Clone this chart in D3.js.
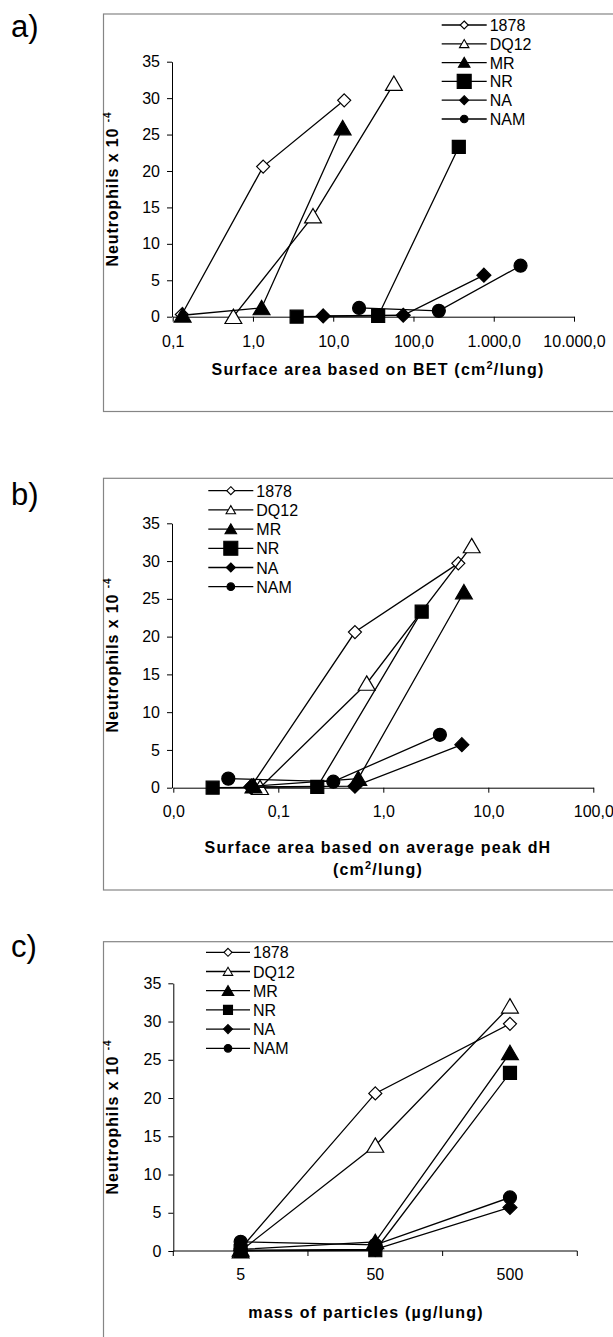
<!DOCTYPE html>
<html>
<head>
<meta charset="utf-8">
<script src="https://cdn.jsdelivr.net/npm/d3@7"></script>
<style>
  body { margin: 0; background: #fff; }
  svg { display: block; font-family: "Liberation Sans", Arial, sans-serif; }
</style>
</head>
<body>
<div id="chart"></div>
<script>
// series, in legend order
var seriesNames = ["1878", "DQ12", "MR", "NR", "NA", "NAM"];

// neutrophil counts (x 10^-4) at the three doses, per series
var neutrophils = [
  [0.3, 20.6, 29.7],
  [0.0, 13.8, 32.0],
  [0.2, 1.2, 25.9],
  [0.0, 0.1, 23.3],
  [0.1, 0.2, 5.7],
  [1.2, 0.8, 7.0]
];

// a) surface area based on BET (cm2/lung)
var betArea = [
  [0.13, 1.34, 13.7],
  [0.57, 5.6, 57],
  [0.133, 1.28, 13.1],
  [3.5, 36.3, 367],
  [7.5, 74.5, 754],
  [21, 207, 2158]
];

// b) surface area based on average peak dH (cm2/lung)
var dhArea = [
  [0.056, 0.537, 5.18],
  [0.067, 0.695, 6.95],
  [0.058, 0.578, 5.86],
  [0.0237, 0.235, 2.32],
  [0.0546, 0.537, 5.6],
  [0.0334, 0.334, 3.46]
];

// c) mass of particles (ug/lung)
var massDose = ["5", "50", "500"];

var yTicks = [0, 5, 10, 15, 20, 25, 30, 35];
var betTicks = [0.1, 1, 10, 100, 1000, 10000];
var betTickLabels = ["0,1", "1,0", "10,0", "100,0", "1.000,0", "10.000,0"];
var dhTicks = [0.01, 0.1, 1, 10, 100];
var dhTickLabels = ["0,0", "0,1", "1,0", "10,0", "100,0"];

// marker styles per series
var markerShape = ["diamond", "triangle", "triangle", "square", "diamond", "circle"];
var markerFilled = [false, false, true, true, true, true];
var markerSize = [6.5, 8, 8, 6.5, 7, 6.5];
var legendSizeAB = [4, 4.5, 5.5, 7, 4.5, 3.8];
var legendSizeC = [4, 4.5, 5.5, 4.5, 4.5, 3.8];

var svg = d3.select("#chart").append("svg")
  .attr("width", 613)
  .attr("height", 1337);

function markerPath(shape, s) {
  if (shape == "diamond") return "M0," + (-s) + "L" + s + ",0L0," + s + "L" + (-s) + ",0Z";
  if (shape == "square") return "M" + (-s) + "," + (-s) + "H" + s + "V" + s + "H" + (-s) + "Z";
  if (shape == "triangle") return "M0," + (-s * 0.95) + "L" + (s * 1.05) + "," + (s * 0.85) + "L" + (-s * 1.05) + "," + (s * 0.85) + "Z";
  var p = d3.path();
  p.arc(0, 0, s, 0, 2 * Math.PI);
  return p.toString();
}

function drawPanel(p) {
  var g = svg.append("g");

  // outer frame (runs off the right edge)
  g.append("rect")
    .attr("x", 103.5).attr("y", p.frameTop)
    .attr("width", 600).attr("height", p.frameBottom - p.frameTop)
    .attr("fill", "none").attr("stroke", "#858585").attr("stroke-width", 1.2);

  g.append("text")
    .attr("x", 11).attr("y", p.labelY)
    .attr("font-size", 31)
    .text(p.label);

  var y = d3.scaleLinear().domain([0, 35]).range(p.yRange);
  var x = p.x;

  // y axis
  var yAxis = g.append("g")
    .attr("transform", "translate(" + p.axisX + ",0)")
    .call(d3.axisLeft(y).tickValues(yTicks).tickSize(5).tickSizeOuter(0).tickPadding(7));
  yAxis.selectAll("text").attr("font-size", 16).attr("fill", "#000");
  yAxis.attr("font-family", null);

  // x axis
  var x0 = p.yRange[0];
  if (p.kind == "log") {
    var xAxis = g.append("g")
      .attr("transform", "translate(0," + x0 + ")")
      .call(d3.axisBottom(x).tickValues(p.ticks)
        .tickFormat(function(d, i) { return p.tickLabels[i]; })
        .tickSize(5).tickSizeOuter(0));
    xAxis.attr("font-family", null);
    xAxis.selectAll("text").attr("font-size", 16).attr("dy", null).attr("y", p.tickLabelDy).attr("fill", "#000");
  } else {
    var xAxis = g.append("g").attr("transform", "translate(0," + x0 + ")");
    var r = x.range();
    xAxis.append("line").attr("x1", r[0]).attr("x2", r[1]).attr("stroke", "#000");
    var edges = massDose.map(function(d) { return x(d); }).concat([r[1]]);
    xAxis.selectAll(".tk").data(edges).enter().append("line")
      .attr("x1", function(d) { return d; }).attr("x2", function(d) { return d; })
      .attr("y1", 0).attr("y2", 5).attr("stroke", "#000");
    xAxis.selectAll(".lb").data(massDose).enter().append("text")
      .attr("x", function(d) { return x(d) + x.bandwidth() / 2; })
      .attr("y", p.tickLabelDy)
      .attr("text-anchor", "middle").attr("font-size", 16)
      .text(function(d) { return d; });
  }

  // axis titles
  var yt = g.append("text")
    .attr("transform", "translate(" + p.yTitle[0] + "," + p.yTitle[1] + ") rotate(-90)")
    .attr("text-anchor", "middle").attr("font-size", 16).attr("font-weight", "bold")
    .attr("letter-spacing", 0.9);
  yt.append("tspan").text("Neutrophils x 10 ");
  yt.append("tspan").attr("font-size", 10).attr("dy", -7).text("-4");

  p.xTitle.forEach(function(t) {
    var tx = g.append("text")
      .attr("x", t.x).attr("y", t.y)
      .attr("text-anchor", "middle").attr("font-size", 16).attr("font-weight", "bold")
      .attr("letter-spacing", 1.2);
    t.parts.forEach(function(part) {
      if (part.sup) tx.append("tspan").attr("font-size", 11).attr("dy", -6).text(part.text);
      else tx.append("tspan").attr("dy", part.down ? 6 : null).text(part.text);
    });
  });

  var xValue = function(s, i) {
    if (p.kind == "log") return x(p.xData[s][i]);
    return x(massDose[i]) + x.bandwidth() / 2;
  };

  var line = d3.line()
    .x(function(d) { return d[0]; })
    .y(function(d) { return d[1]; });

  seriesNames.forEach(function(name, s) {
    var pts = neutrophils[s].map(function(v, i) { return [xValue(s, i), y(v)]; });
    g.append("path")
      .attr("d", line(pts))
      .attr("fill", "none").attr("stroke", "#000").attr("stroke-width", 1.3);
    g.selectAll(".m" + s).data(pts).enter().append("path")
      .attr("transform", function(d) { return "translate(" + d[0] + "," + d[1] + ")"; })
      .attr("d", markerPath(markerShape[s], markerSize[s]))
      .attr("fill", markerFilled[s] ? "#000" : "#fff")
      .attr("stroke", "#000").attr("stroke-width", 1.2);
  });

  // legend
  var lg = g.append("g");
  seriesNames.forEach(function(name, s) {
    var ly = p.legend.y0 + s * p.legend.step;
    lg.append("line")
      .attr("x1", p.legend.x0).attr("x2", p.legend.x1)
      .attr("y1", ly).attr("y2", ly)
      .attr("stroke", "#000").attr("stroke-width", 1.3);
    lg.append("path")
      .attr("transform", "translate(" + ((p.legend.x0 + p.legend.x1) / 2) + "," + ly + ")")
      .attr("d", markerPath(markerShape[s], p.legendSize[s]))
      .attr("fill", markerFilled[s] ? "#000" : "#fff")
      .attr("stroke", "#000").attr("stroke-width", 1.1);
    lg.append("text")
      .attr("x", p.legend.x1 + 3).attr("y", ly + 6)
      .attr("font-size", 16)
      .text(name);
  });
}

drawPanel({
  label: "a)", labelY: 37,
  frameTop: 14, frameBottom: 411.5,
  kind: "log",
  x: d3.scaleLog().domain([0.1, 10000]).range([172.7, 574]),
  xData: betArea, ticks: betTicks, tickLabels: betTickLabels,
  yRange: [316.7, 61.7], axisX: 172, tickLabelDy: 30,
  yTitle: [118, 189],
  xTitle: [{ x: 378, y: 375, parts: [{ text: "Surface area based on BET (cm" }, { text: "2", sup: true }, { text: "/lung)", down: true }] }],
  legend: { x0: 441.7, x1: 486.7, y0: 25, step: 18.8 },
  legendSize: legendSizeAB
});

drawPanel({
  label: "b)", labelY: 505,
  frameTop: 478.3, frameBottom: 890,
  kind: "log",
  x: d3.scaleLog().domain([0.01, 100]).range([173.3, 593.3]),
  xData: dhArea, ticks: dhTicks, tickLabels: dhTickLabels,
  yRange: [787.7, 523.3], axisX: 172, tickLabelDy: 29,
  yTitle: [118, 655],
  xTitle: [
    { x: 378, y: 852.7, parts: [{ text: "Surface area based on average peak dH" }] },
    { x: 378, y: 875, parts: [{ text: "(cm" }, { text: "2", sup: true }, { text: "/lung)", down: true }] }
  ],
  legend: { x0: 208.3, x1: 253.3, y0: 490.7, step: 19.2 },
  legendSize: legendSizeAB
});

drawPanel({
  label: "c)", labelY: 956.7,
  frameTop: 941.7, frameBottom: 1400,
  kind: "band",
  x: d3.scaleBand().domain(massDose).range([173.3, 577.3]),
  yRange: [1251, 983.3], axisX: 173.3, tickLabelDy: 29,
  yTitle: [118, 1117],
  xTitle: [{ x: 366, y: 1318, parts: [{ text: "mass of particles (µg/lung)" }] }],
  legend: { x0: 206, x1: 250, y0: 952.3, step: 19.2 },
  legendSize: legendSizeC
});
</script>
</body>
</html>
